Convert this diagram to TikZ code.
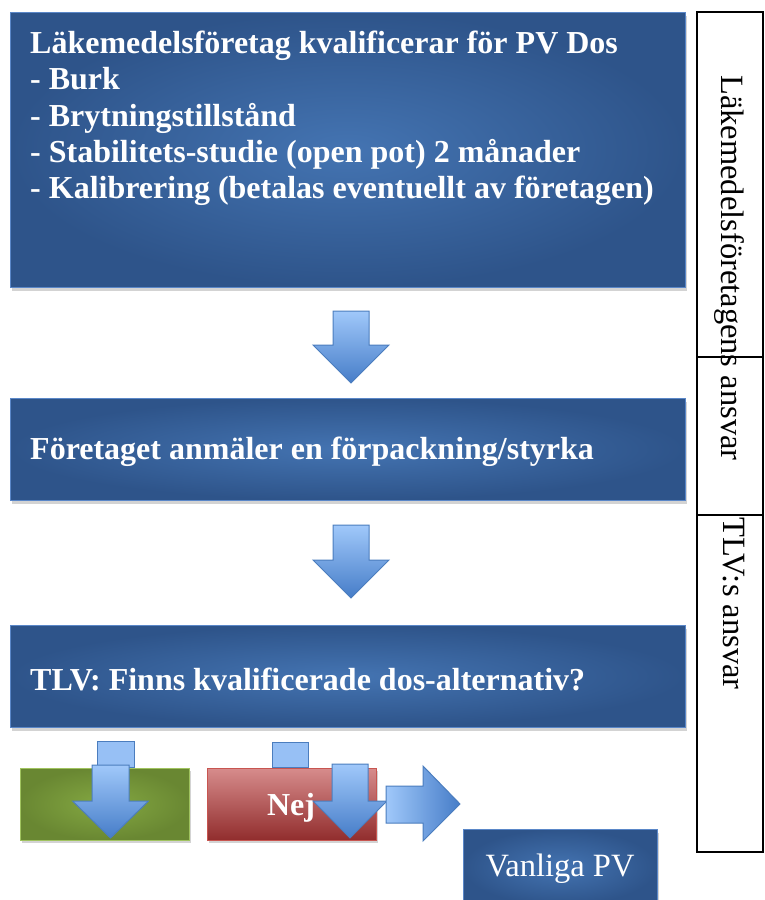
\documentclass[tikz,border=0pt]{standalone}
\usepackage{fontspec}
\setmainfont{Liberation Serif}
\usetikzlibrary{shadows}
\definecolor{boxin}{RGB}{68,116,178}
\definecolor{boxout}{RGB}{46,84,138}
\definecolor{boxline}{RGB}{90,135,200}
\definecolor{arrtop}{RGB}{160,200,250}
\definecolor{arrbot}{RGB}{70,125,200}
\definecolor{arrline}{RGB}{75,125,190}
\definecolor{grin}{RGB}{132,168,66}
\definecolor{grout}{RGB}{105,135,50}
\definecolor{grline}{RGB}{160,195,95}
\definecolor{redtop}{RGB}{215,140,140}
\definecolor{redbot}{RGB}{145,45,45}
\definecolor{redline}{RGB}{200,85,80}
\tikzset{
  bigbox/.style={draw=boxline, line width=1pt, inner color=boxin, outer color=boxout,
     drop shadow={opacity=0.35, shadow xshift=2pt, shadow yshift=-4pt}},
  boxtext/.style={text=white, font=\fontsize{32}{36.2}\selectfont\bfseries, align=left, inner sep=0pt},
  blockarrow/.style={draw=arrline, line width=1pt, top color=arrtop, bottom color=arrbot},
  stub/.style={draw=arrline, line width=1pt, fill=arrtop!90!arrbot},
  greenbox/.style={draw=grline, line width=1pt, inner color=grin, outer color=grout,
     drop shadow={opacity=0.35, shadow xshift=2pt, shadow yshift=-3pt}},
  redbox/.style={draw=redline, line width=1pt, top color=redtop, bottom color=redbot,
     drop shadow={opacity=0.35, shadow xshift=2pt, shadow yshift=-3pt}},
  sidetext/.style={font=\fontsize{32.5}{34}\selectfont, rotate=-90, inner sep=0pt},
  tableline/.style={draw=black, line width=1.2pt}
}
% down block arrow: cx, top, headtop, tip, shaft half width, head half width
\newcommand\mydownarrow[6]{%
  \path[blockarrow] (#1-#5,#2) -- (#1+#5,#2) -- (#1+#5,#3) -- (#1+#6,#3) -- (#1,#4)
     -- (#1-#6,#3) -- (#1-#5,#3) -- cycle;}
\begin{document}
\begin{tikzpicture}[x=1pt,y=-1pt]
\useasboundingbox (0,0) rectangle (764,900);
% main boxes
\path[bigbox] (10,12) rectangle (685,287);
\node[boxtext, anchor=north west] (t1) at (30,31) {Läkemedelsföretag kvalificerar för PV Dos\\
- Burk\\- Brytningstillstånd\\- Stabilitets-studie (open pot) 2 månader\\- Kalibrering (betalas eventuellt av företagen)};
\mydownarrow{351}{311}{345}{383}{18}{38}
\path[bigbox] (10,398) rectangle (685,500);
\node[boxtext, anchor=base west] (t2) at (30,459) {Företaget anmäler en förpackning/styrka};
\mydownarrow{351}{525}{560}{598}{18}{38}
\path[bigbox] (10,625) rectangle (685,727);
\node[boxtext, anchor=base west] (t3) at (30,690) {TLV: Finns kvalificerade dos-alternativ?};
% bottom row
\path[stub] (97,741) rectangle (134,767);
\path[stub] (272,742) rectangle (308,767);
\path[greenbox] (20,768) rectangle (189,840);
\path[redbox] (207,768) rectangle (376,840);
\node[text=white, font=\fontsize{32}{34}\selectfont\bfseries, anchor=base, inner sep=0pt] (nej) at (291,815) {Nej};
\mydownarrow{110.5}{765}{801}{838}{18.5}{38}
\mydownarrow{350}{764}{801}{838}{18}{37}
\path[draw=arrline, line width=1pt, left color=arrtop, right color=arrbot]
  (386,786) -- (423,786) -- (423,766) -- (460,804) -- (423,841) -- (423,823) -- (386,823) -- cycle;
\path[bigbox] (463,829) rectangle (657,905);
\node[text=white, font=\fontsize{32.5}{34}\selectfont, anchor=base, inner sep=0pt] (vpv) at (560,876) {Vanliga PV};
% side table
\draw[tableline] (697,12) rectangle (763,852);
\draw[tableline] (697,357) -- (763,357);
\draw[tableline] (697,515) -- (763,515);
\node[sidetext, anchor=north west] (s1) at (745,75) {Läkemedelsföretagens ansvar};
\node[sidetext, anchor=north west] (s2) at (745,517) {TLV:s ansvar};
\end{tikzpicture}
\end{document}
